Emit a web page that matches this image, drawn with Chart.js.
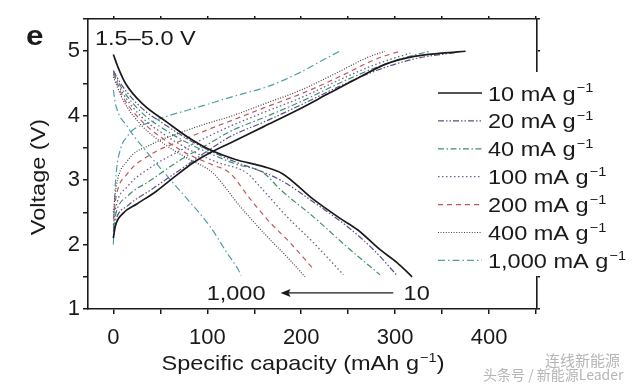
<!DOCTYPE html>
<html>
<head>
<meta charset="utf-8">
<script src="https://cdn.jsdelivr.net/npm/chart.js@4.4.0/dist/chart.umd.min.js"></script>
<style>
  html, body { margin: 0; padding: 0; background: #fff; }
</style>
</head>
<body>
<canvas id="c" width="640" height="387"></canvas>
<script>
// rate labels (mA g-1) and axis ticks
const rates = ['10', '20', '40', '100', '200', '400', '1,000'];
const xTicks = [0, 100, 200, 300, 400];
const yTicks = [1, 2, 3, 4, 5];
const xTickMarks = [0, 50, 100, 150, 200, 250, 300, 350, 400, 450];
const yTickMarks = [1, 1.5, 2, 2.5, 3, 3.5, 4, 4.5, 5, 5.5];

// charge curves: [capacity mAh/g, voltage V]
const charge10 = [[0, 2.1], [2, 2.28], [10, 2.48], [25, 2.63], [45, 2.82], [65, 3.05], [85, 3.27], [100, 3.4], [125, 3.58], [160, 3.83], [195, 4.08], [230, 4.35], [260, 4.58], [290, 4.8], [320, 4.92], [350, 4.97], [375, 5.0]];
const charge20 = [[0, 2.2], [3, 2.4], [15, 2.6], [40, 2.85], [70, 3.15], [100, 3.45], [125, 3.68], [160, 3.9], [200, 4.17], [240, 4.45], [280, 4.7], [320, 4.88], [364, 4.98]];
const charge40 = [[0, 2.25], [3, 2.5], [15, 2.75], [40, 3.0], [70, 3.3], [100, 3.55], [125, 3.76], [160, 3.97], [200, 4.22], [240, 4.5], [280, 4.75], [310, 4.9], [337, 5.0]];
const charge100 = [[0, 2.3], [3, 2.6], [15, 2.9], [40, 3.2], [70, 3.45], [100, 3.67], [125, 3.84], [160, 4.05], [200, 4.28], [240, 4.55], [280, 4.8], [316, 4.97]];
const charge200 = [[0, 2.4], [3, 2.75], [15, 3.1], [40, 3.4], [70, 3.6], [100, 3.78], [125, 3.92], [160, 4.12], [200, 4.34], [240, 4.6], [280, 4.88], [305, 5.0]];
const charge400 = [[0, 2.5], [3, 2.9], [15, 3.3], [40, 3.55], [70, 3.73], [100, 3.88], [125, 3.99], [160, 4.18], [200, 4.4], [240, 4.68], [270, 4.9], [289, 5.0]];
const charge1000 = [[0, 2.0], [1, 2.6], [3, 3.1], [8, 3.5], [15, 3.68], [21, 3.78], [40, 3.9], [57, 3.99], [92, 4.14], [128, 4.3], [164, 4.45], [200, 4.68], [220, 4.84], [241, 5.0]];

// discharge curves
const discharge10 = [[0, 4.95], [5, 4.75], [13, 4.5], [32, 4.17], [57, 3.9], [79, 3.67], [103, 3.47], [130, 3.32], [160, 3.21], [180, 3.1], [213, 2.7], [241, 2.41], [260, 2.23], [284, 1.92], [302, 1.72], [318, 1.5]];
const discharge20 = [[0, 4.7], [10, 4.45], [30, 4.12], [55, 3.86], [80, 3.63], [105, 3.44], [130, 3.28], [155, 3.15], [178, 3.0], [213, 2.66], [249, 2.28], [277, 1.92], [302, 1.52]];
const discharge40 = [[0, 4.68], [10, 4.4], [30, 4.05], [55, 3.78], [80, 3.57], [105, 3.4], [130, 3.25], [160, 3.11], [178, 2.85], [213, 2.43], [249, 1.96], [284, 1.53]];
const discharge100 = [[0, 4.65], [10, 4.35], [30, 3.98], [55, 3.7], [80, 3.48], [110, 3.28], [142, 3.11], [156, 2.9], [185, 2.43], [213, 2.03], [245, 1.53]];
const discharge200 = [[0, 4.65], [10, 4.3], [30, 3.92], [55, 3.62], [80, 3.4], [105, 3.24], [124, 3.11], [146, 2.7], [167, 2.34], [188, 2.03], [213, 1.62]];
const discharge400 = [[0, 4.6], [10, 4.25], [30, 3.85], [55, 3.55], [80, 3.33], [106, 3.11], [135, 2.59], [164, 2.12], [188, 1.76], [204, 1.5]];
const discharge1000 = [[0, 4.4], [2, 4.2], [15, 3.83], [36, 3.43], [61, 3.0], [79, 2.7], [103, 2.28], [121, 1.87], [133, 1.61], [136, 1.52]];

const charges = [charge10, charge20, charge40, charge100, charge200, charge400, charge1000];
const discharges = [discharge10, discharge20, discharge40, discharge100, discharge200, discharge400, discharge1000];

// line styles per rate
const styles = [
  { color: '#1a1a1a', dash: [], width: 1.7 },
  { color: '#5b4f8f', dash: [6, 2, 1.5, 2, 1.5, 2], width: 1.2 },
  { color: '#3f8f6e', dash: [6, 2.5, 1.5, 2.5], width: 1.2 },
  { color: '#6b5f8f', dash: [1.5, 2.5], width: 1.3 },
  { color: '#c0585a', dash: [5, 4], width: 1.2 },
  { color: '#444444', dash: [1, 1.6], width: 1.2 },
  { color: '#4f9fa8', dash: [7, 3, 1.5, 3], width: 1.2 },
];

const FONT = '"Liberation Sans", Arial, sans-serif';
const STRETCH = 1.12; // the figure's lettering is a bit wider than Arial
const toPts = arr => arr.map(p => ({ x: p[0], y: p[1] }));

const datasets = [];
rates.forEach((r, i) => {
  [charges[i], discharges[i]].forEach(curve => {
    datasets.push({
      label: r,
      data: toPts(curve),
      borderColor: styles[i].color,
      borderDash: styles[i].dash,
      borderWidth: styles[i].width,
      pointRadius: 0,
      fill: false,
      showLine: true,
      cubicInterpolationMode: 'monotone',
    });
  });
});

// stretched text; parts = [[text, isSup], ...]
function drawText(ctx, parts, x, y, size, align, rot) {
  ctx.save();
  ctx.translate(x, y);
  if (rot) ctx.rotate(rot);
  ctx.scale(STRETCH, 1);
  const supSize = Math.round(size * 0.62);
  let total = 0;
  parts.forEach(([t, sup]) => {
    ctx.font = (sup ? supSize : size) + 'px ' + FONT;
    total += ctx.measureText(t).width + (sup ? 1 : 0);
  });
  let cx = align === 'center' ? -total / 2 : align === 'right' ? -total : 0;
  ctx.textAlign = 'left';
  parts.forEach(([t, sup]) => {
    ctx.font = (sup ? supSize : size) + 'px ' + FONT;
    if (sup) cx += 1;
    ctx.fillText(t, cx, sup ? -size * 0.4 : 0);
    cx += ctx.measureText(t).width;
  });
  ctx.restore();
}

const extras = {
  id: 'extras',
  afterDraw(chart) {
    const ctx = chart.ctx;
    const xs = chart.scales.x, ys = chart.scales.y;
    ctx.save();
    ctx.fillStyle = '#1a1a1a';
    ctx.textBaseline = 'alphabetic';

    // panel letter and voltage window
    ctx.save();
    ctx.translate(26, 45);
    ctx.scale(STRETCH, 1);
    ctx.font = 'bold 28px ' + FONT;
    ctx.fillText('e', 0, 0);
    ctx.restore();
    drawText(ctx, [['1.5\u20135.0 V']], 95, 45, 21, 'left');

    // legend box over the right frame
    ctx.fillStyle = '#fff';
    ctx.fillRect(432, 72, 208, 204);
    rates.forEach((r, i) => {
      const cy = 93 + i * 27.9;
      ctx.strokeStyle = styles[i].color;
      ctx.lineWidth = styles[i].width;
      ctx.setLineDash(styles[i].dash);
      ctx.beginPath();
      ctx.moveTo(438, cy);
      ctx.lineTo(482, cy);
      ctx.stroke();
      ctx.setLineDash([]);
      ctx.fillStyle = '#1a1a1a';
      drawText(ctx, [[r + ' mA g'], ['\u22121', true]], 488, cy + 7.5, 21, 'left');
    });

    // axis titles
    ctx.fillStyle = '#1a1a1a';
    drawText(ctx, [['Voltage (V)']], 45, 177, 21, 'center', -Math.PI / 2);
    drawText(ctx, [['Specific capacity (mAh g'], ['\u22121', true], [')']], 303, 370, 21, 'center');

    // rate arrow annotation
    const ay = ys.getPixelForValue(1.25);
    drawText(ctx, [['1,000']], xs.getPixelForValue(162), ay + 7.5, 21, 'right');
    drawText(ctx, [['10']], xs.getPixelForValue(309), ay + 7.5, 21, 'left');
    const x0 = xs.getPixelForValue(298), x1 = xs.getPixelForValue(178);
    ctx.strokeStyle = '#1a1a1a';
    ctx.lineWidth = 1.3;
    ctx.beginPath();
    ctx.moveTo(x0, ay);
    ctx.lineTo(x1 + 6, ay);
    ctx.stroke();
    ctx.beginPath();
    ctx.moveTo(x1, ay);
    ctx.lineTo(x1 + 10, ay - 4);
    ctx.lineTo(x1 + 8, ay);
    ctx.lineTo(x1 + 10, ay + 4);
    ctx.closePath();
    ctx.fill();

    // watermark
    ctx.fillStyle = '#b5b5b5';
    ctx.font = '15px "Noto Sans CJK SC", sans-serif';
    ctx.fillText('连线新能源', 545, 366);
    ctx.font = '14px "Noto Sans CJK SC", sans-serif';
    ctx.fillText('头条号 / 新能源Leader', 483, 380);
    ctx.restore();
  }
};

const setXTicks = axis => { axis.ticks = xTickMarks.map(v => ({ value: v })); };
const setYTicks = axis => { axis.ticks = yTickMarks.map(v => ({ value: v })); };
const frameGrid = { display: true, drawOnChartArea: false, drawTicks: true, tickLength: 5, color: '#1a1a1a', lineWidth: 1.5 };
const frameBorder = { display: true, color: '#1a1a1a', width: 1.6 };

new Chart(document.getElementById('c'), {
  type: 'scatter',
  data: { datasets },
  options: {
    responsive: false,
    animation: false,
    devicePixelRatio: 1,
    layout: { padding: { left: 0, right: 103, top: 19, bottom: 0 } },
    plugins: { legend: { display: false }, tooltip: { enabled: false } },
    scales: {
      x: {
        type: 'linear', position: 'bottom', min: -27, max: 451,
        afterBuildTicks: setXTicks,
        afterFit: s => { s.height = 78; },
        grid: frameGrid, border: frameBorder,
        ticks: {
          color: '#1a1a1a', padding: 11, maxRotation: 0, autoSkip: false,
          font: { size: 22, family: FONT },
          callback: v => xTicks.includes(v) ? String(v) : '',
        },
      },
      x2: {
        type: 'linear', position: 'top', min: -27, max: 451,
        afterBuildTicks: setXTicks,
        afterFit: s => { s.height = 0; },
        grid: Object.assign({}, frameGrid, { tickLength: 3 }), border: frameBorder,
        ticks: { display: false },
      },
      y: {
        type: 'linear', position: 'left', min: 1, max: 5.5,
        afterBuildTicks: setYTicks,
        afterFit: s => { s.width = 88; },
        grid: frameGrid, border: frameBorder,
        ticks: {
          color: '#1a1a1a', padding: 3, autoSkip: false,
          font: { size: 22, family: FONT },
          callback: v => yTicks.includes(v) ? String(v) : '',
        },
      },
      y2: {
        type: 'linear', position: 'right', min: 1, max: 5.5,
        afterBuildTicks: setYTicks,
        afterFit: s => { s.width = 0; },
        grid: Object.assign({}, frameGrid, { tickLength: 3 }), border: frameBorder,
        ticks: { display: false },
      },
    },
  },
  plugins: [extras],
});
</script>
</body>
</html>
